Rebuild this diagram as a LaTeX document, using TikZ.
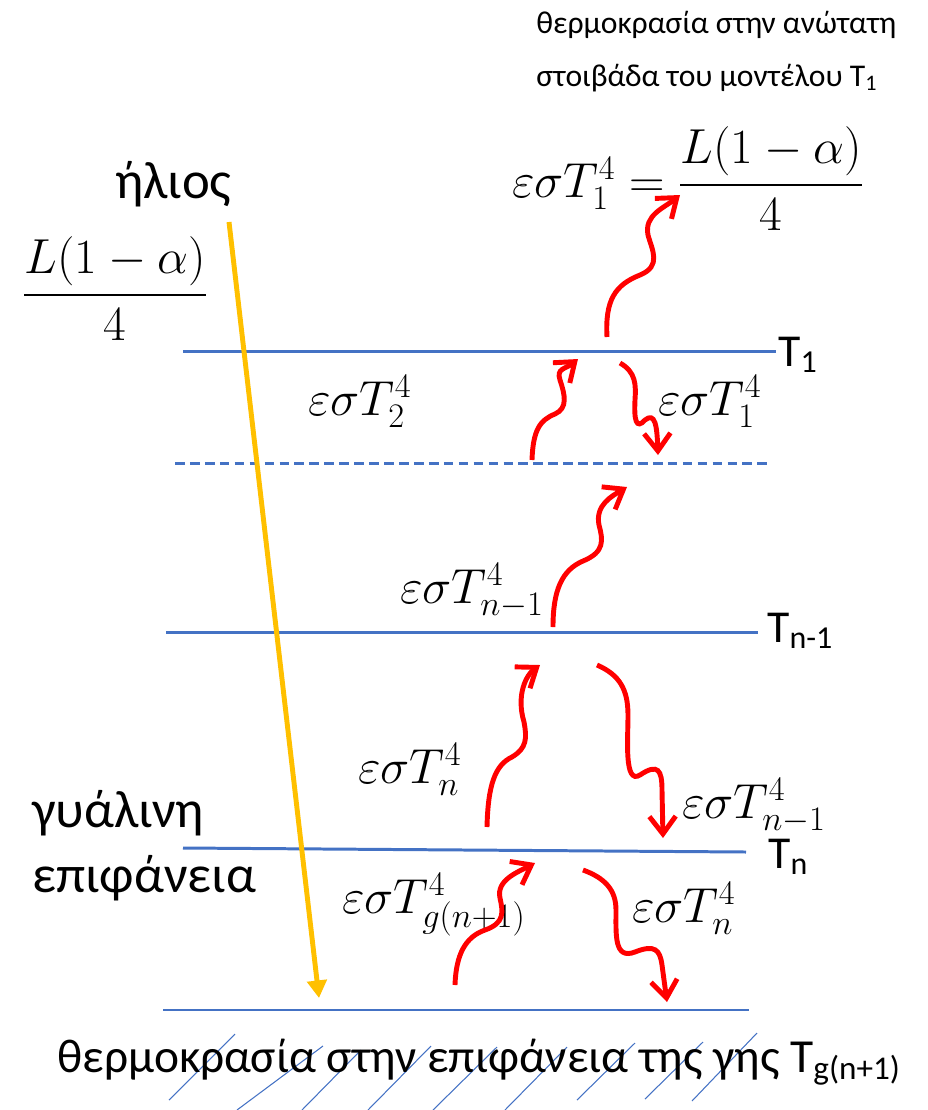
\RequirePackage{fix-cm}
\documentclass[tikz,border=0pt]{standalone}
\usepackage{amsmath}
\usepackage[no-math]{fontspec}
\setmainfont{Carlito}
\usepackage{tikz}
\usetikzlibrary{arrows.meta}
\definecolor{layerblue}{HTML}{4472C4}
\definecolor{sunyellow}{HTML}{FFC000}
\definecolor{heatred}{HTML}{FF0000}

\begin{document}
\begin{tikzpicture}[x=0.02cm, y=-0.02cm,
    layer/.style={layerblue, line width=1.7pt},
    ground/.style={layerblue, line width=0.6pt},
    wave/.style={heatred, line width=2.8pt, -{Straight Barb[length=10pt,width=15pt]}},
    sunray/.style={sunyellow, line width=2.8pt, -{Triangle[length=10pt,width=11pt]}},
    lbl/.style={inner sep=0pt, anchor=base west, font=\fontsize{30}{36}\selectfont},
    caption/.style={lbl, font=\fontsize{18}{22}\selectfont},
    tlabel/.style={lbl, font=\fontsize{26}{31}\selectfont},
    flux/.style={lbl, font=\fontsize{28}{33}\selectfont}]
    \useasboundingbox (0,0) rectangle (928,1110);

    % επεξήγηση
    \node[caption] (cap1) at (536,33) {θερμοκρασία στην ανώτατη};
    \node[caption] (cap2) at (536,86) {στοιβάδα του μοντέλου T\textsubscript{1}};
    \node[flux] (eqtop) at (512,197) {$\varepsilon\sigma T_1^4 = \dfrac{L(1-\alpha)}{4}$};

    % ήλιος
    \node[lbl] (sun) at (115,198) {ήλιος};
    \node[flux, anchor=base] (insol) at (115,307) {$\dfrac{L(1-\alpha)}{4}$};
    \coordinate (sunstart) at (229,222);
    \coordinate (sunend) at (319,998);

    % στοιβάδες
    \draw[layer] (183,351) -- (776,351);
    \draw[layer, dash pattern=on 5.5pt off 3pt] (175,463) -- (767,463);
    \draw[layer] (166,632) -- (758,632);
    \draw[layer] (183,848) -- (746,852);
    \node[tlabel] (T1) at (778,366) {T\textsubscript{1}};
    \node[tlabel] (Tn1) at (767,642) {T\textsubscript{n-1}};
    \node[tlabel] (Tn) at (768,868) {T\textsubscript{n}};

    % έδαφος
    \draw[ground] (163,1010) -- (749,1010);
    \foreach \xa/\ya/\xb/\yb in {169/1100/235/1034, 237/1110/323/1046, 302/1110/361/1050,
        368/1110/431/1046, 433/1110/497/1047, 505/1110/567/1047, 577/1100/635/1043,
        645/1099/703/1042, 692/1101/757/1033} {
        \draw[ground] (\xa,\ya) -- (\xb,\yb);
    }
    \node[lbl, font=\fontsize{27}{32}\selectfont] (surf) at (57,1072) {θερμοκρασία στην επιφάνεια της γης T\textsubscript{g(n+1)}};

    \node[lbl] (glass1) at (32,827) {γυάλινη};
    \node[lbl] (glass2) at (32,892) {επιφάνεια};

    % ροές
    \node[flux] (f2) at (308,415) {$\varepsilon\sigma T_2^4$};
    \node[flux] (f1) at (658,415) {$\varepsilon\sigma T_1^4$};
    \node[flux] (fn1up) at (400,603) {$\varepsilon\sigma T_{n-1}^4$};
    \node[flux] (fnup) at (358,783) {$\varepsilon\sigma T_n^4$};
    \node[flux] (fn1dn) at (682,818) {$\varepsilon\sigma T_{n-1}^4$};
    \node[flux] (fg) at (342,913) {$\varepsilon\sigma T_{g(n+1)}^4$};
    \node[flux] (fndn) at (632,922) {$\varepsilon\sigma T_n^4$};

    \draw[sunray] (sunstart) -- (sunend);

    % κυματιστά βέλη
    \coordinate (a0) at (607,337); \coordinate (a1) at (680,195);
    \coordinate (b0) at (532,460); \coordinate (b1) at (578,359);
    \coordinate (c0) at (620,363); \coordinate (c1) at (658,455);
    \coordinate (d0) at (553,627); \coordinate (d1) at (627,487);
    \coordinate (e0) at (487,827); \coordinate (e1) at (540,665);
    \coordinate (f0) at (597,665); \coordinate (f1) at (663,838);
    \coordinate (g0) at (455,985); \coordinate (g1) at (535,863);
    \coordinate (h0) at (583,870); \coordinate (h1) at (667,1002);
    \draw[wave] (a0) .. controls (605,300) and (615,285) .. (640,275)
        .. controls (662,266) and (652,250) .. (648,235)
        .. controls (644,215) and (664,208) .. (a1);
    \draw[wave] (b0) .. controls (533,430) and (540,420) .. (555,414)
        .. controls (568,408) and (565,395) .. (560,380)
        .. controls (556,368) and (566,369) .. (b1);
    \draw[wave] (c0) .. controls (636,372) and (636,385) .. (635,400)
        .. controls (634,420) and (636,430) .. (645,420)
        .. controls (655,412) and (657,425) .. (c1);
    \draw[wave] (d0) .. controls (553,590) and (562,570) .. (583,561)
        .. controls (605,552) and (603,540) .. (599,525)
        .. controls (595,505) and (612,496) .. (d1);
    \draw[wave] (e0) .. controls (488,785) and (495,765) .. (512,757)
        .. controls (527,748) and (527,738) .. (524,722)
        .. controls (516,695) and (526,675) .. (e1);
    \draw[wave] (f0) .. controls (620,675) and (628,690) .. (628,715)
        .. controls (628,740) and (624,785) .. (640,775)
        .. controls (658,763) and (662,770) .. (662,790) -- (f1);
    \draw[wave] (g0) .. controls (456,955) and (465,937) .. (485,930)
        .. controls (505,923) and (503,912) .. (500,898)
        .. controls (496,880) and (518,872) .. (g1);
    \draw[wave] (h0) .. controls (605,878) and (616,890) .. (616,910)
        .. controls (616,935) and (614,960) .. (635,952)
        .. controls (655,944) and (660,950) .. (662,965) -- (h1);
\end{tikzpicture}
\end{document}
